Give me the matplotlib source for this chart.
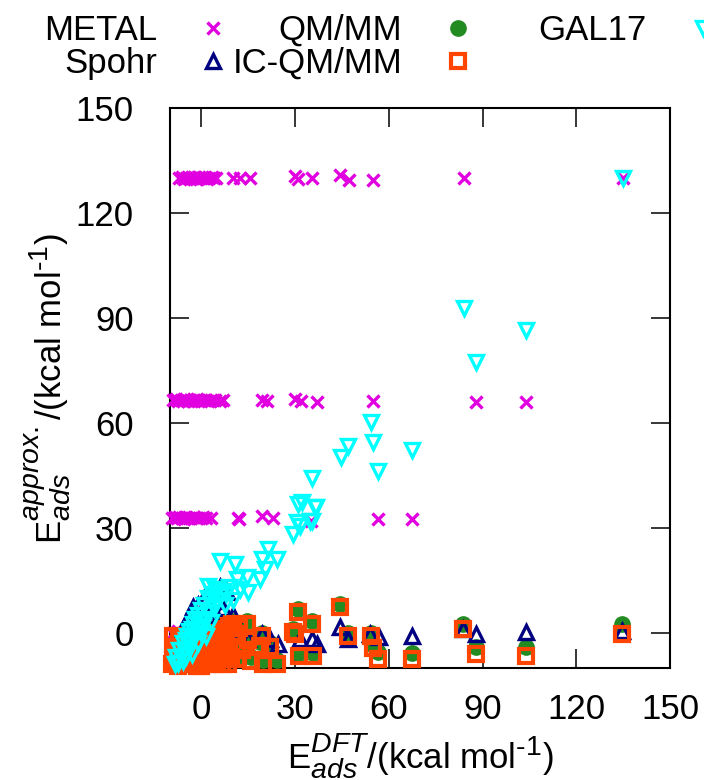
import matplotlib.pyplot as plt
import matplotlib._mathtext as mathtext_internal
from matplotlib.lines import Line2D

plt.rcParams['font.family'] = ['Liberation Sans', 'DejaVu Sans']
plt.rcParams['mathtext.fontset'] = 'custom'
plt.rcParams['mathtext.rm'] = 'Liberation Sans'
plt.rcParams['mathtext.it'] = 'Liberation Sans:italic'
plt.rcParams['font.size'] = 25
# gnuplot enhanced text uses bigger sub/superscripts than mathtext
mathtext_internal.SHRINK_FACTOR = 0.82

# METAL: three quantised levels plus a few near zero
metal_x = [-7, -6.3, -5.6, -5, -4.4, -3.7, -3, -2.4, -1.8, -1.2, -0.6, 0, 0.6, 1.2, 1.9, 2.6, 3.3, 4, 4.6,
           10, 12.5, 15.5, 30, 31, 35.5, 44.5, 47.2, 55, 84, 135,
           -9, -8, -7.3, -6.6, -6, -5.4, -4.8, -4.2, -3.5, -2.8, -2.2, -1.5, -0.8, 0, 0.8, 1.5, 2.3, 3, 4.5,
           6, 7, 19.5, 21, 30, 32, 37, 55, 88, 104,
           -9.5, -8.5, -7.8, -7, -6.2, -5.5, -4.8, -4, -3.2, -2.4, -1.5, -0.6, 0.5, 1.5, 3,
           11.8, 12.2, 19.5, 23, 35, 56.5, 67.3,
           -9, -8.3, -7.5, -6.5]
metal_y = [130, 130.3, 129.8, 130, 130.4, 129.7, 130, 130.2, 129.8, 130, 130.4, 129.9, 130, 130.3, 129.8, 130, 130.2, 129.9, 130,
           130, 130, 130, 130.5, 129.8, 130, 131, 129.5, 129.5, 130, 130,
           66.5, 66.8, 66.3, 66.6, 66.4, 66.8, 66.5, 66.3, 66.7, 66.5, 66.4, 66.8, 66.5, 66.3, 66.6, 66.5, 66.4, 66.7, 66.5,
           66.3, 66.5, 66.5, 66.2, 67, 66.3, 66, 66.2, 66, 66,
           33, 33.2, 32.8, 33.1, 33, 32.7, 33.2, 33, 32.8, 33.1, 33, 32.8, 33.2, 33, 32.9,
           33, 32.6, 33.5, 32.8, 32, 32.5, 32.5,
           0, -1, 0.5, -0.5]

# QM/MM (green circles)
qmmm_x = [-9.5, -9, -8.5, -8, -7, -6, -5, -4, -3, -2, -1, 0, 1, 2, 3, 4, 5, 6, 7, 8, 9, 10,
          9.9, 11.5, 11.5, 11.8, 12, 13, 14.7, 15, 16, 18.8, 19.5, 19.8, 22, 24.3,
          29.4, 30, 31, 31.3, 35.4, 35.8, 44.4, 47, 54.3, 54.9, 56.5, 67.3, 83.6, 87.8, 104, 134.7]
qmmm_y = [-7.5, -4.5, -6.5, -2.5, -4.5, -2.5, -5.5, -0.5, -3, -4.5, -3.5, -5.5, -0.5, -7.5, 0.5, -3.5, 1.5, -1.5, 2.5, -0.5, -2.5, 1.5,
          3.5, 1, -3, -6.5, 2.5, -4, 3.5, -1, -7, -2.5, 0, -7.8, -3, -7.8,
          1.2, 0.7, 6.8, -5.6, 3.5, -5.6, 8.2, 0, 0, -3.3, -5.4, -5.6, 2.6, -4, -4, 2.6]

# GAL17 (cyan down triangles)
gal_x = [-8.5, -8, -7.5, -7, -6.5, -6, -6, -5.5, -5, -5, -4.5, -4, -4, -3.5, -3, -3, -2.5, -2, -2, -1.5,
         -1, -1, -0.5, 0, 0, 0.5, 1, 1, 1.5, 2, 2.2, 2.5, 3, 3, 3.5, 4, 4.5, 5, 5.4, 6, 6, 7, 7.5, 8, 9, 10,
         10.9, 11.5, 12.4, 14.7, 15, 18.8, 19.5, 20.4, 21.4, 24.2, 29.4, 30.6, 31, 31.6, 32.2, 34.8, 35.3,
         35.4, 36.4, 36.7, 44.7, 46.9, 54.3, 54.9, 56.5, 67.3, 84, 88, 104, 135]
gal_y = [-9, -7, -8.5, -5, -7, -3, -8, -5, -2, -6.5, -1, -4, 0.5, -2.5, 1, -6, 2.5, -1, 4, 1,
         5, -3, 3, 6.5, 0, 2, 8, 4, -1, 10, 13.4, 6, 9, 3, 11, 7, 12.5, 9, 12.5, 10.5, 20.5, 12, 8, 11, 13, 9.5,
         19.7, 15.4, 12.5, 16, 11.7, 15.4, 21.1, 18.2, 24, 21.1, 28.2, 31.6, 36.8, 30.5, 37.3, 31.9, 44.2,
         32, 35.9, 35.9, 50.2, 53.3, 60.2, 54.5, 46.2, 52.2, 93, 77.3, 86.5, 130]

# Spohr (navy up triangles)
spohr_x = [-7, -6, -5, -4, -3, -2.5, -2, -1, 0, 0.5, 1.3, 1.9, 2, 3, 3.5, 4, 5, 6, 7, 8.3, 10, 12,
           15, 19.5, 22, 24.6, 31.6, 35.4, 37, 44.4, 47, 54, 57, 67.3, 83.6, 88, 104, 134.7]
spohr_y = [-2, 0, 3, 1, 5, 7.4, 3, 8, 6, 2, 10.5, 10.6, 5, 8, 12, 4, 9, 13, 7, 11.7, 5, -1,
           -1.7, -0.3, -1.7, -3.1, -1.7, -1.7, -3.1, 1.7, -1.7, -0.3, -1.1, -0.9, 1.1, -0.3, 0.3, 0.6]

# IC-QM/MM (orange open squares)
icqm_x = [-9.5, -9, -9, -8.5, -8, -7.5, -7, -7, -6.5, -6, -5.5, -5, -5, -4.5, -4, -4, -3.5, -3, -2.5, -2,
          -2, -1.5, -1, -1, -0.5, 0, 0, 0.5, 1, 1, 1.5, 2, 2.5, 3, 3, 3.5, 4, 4.5, 5, 5, 5.5, 6, 6.5, 7, 7,
          7.5, 8, 8.5, 9, 9, 9.5, 10, 9.9, 11.5, 11.5, 11.8, 12, 14.7, 13, 15, 16, 18.8, 19.5, 19.8, 22,
          24.3, 29.4, 30, 31, 31.3, 35.4, 35.8, 44.4, 47, 54.3, 54.9, 56.5, 67.3, 83.6, 87.8, 104, 134.7]
icqm_y = [-9, -6, -1, -8, -4, -9.5, -6, -2, -8.5, -4, -9, -7, -3, -5.5, -9, -2, -7, -4.5, -8.5, -6,
          -1.5, -9.5, -5, -8, -3, -7, -9.5, -4.5, -8.5, -2, -6, -9, -4, -7, -1, -9, -5, -2.5, -8, 0, -6, -3, -9, -5, 1,
          -7.5, -2, -9, -4, 2, -7, 0, 2.6, -0.3, -4, -7.4, 1.5, 2.6, -5, -2, -8, -3.7, -0.9, -8.8, -4,
          -8.8, 0.3, -0.3, 6, -6.6, 2.6, -6.6, 7.4, -0.9, -0.9, -4.3, -7.4, -7.4, 1.1, -6, -6.6, -0.3]

ticks = [0, 30, 60, 90, 120, 150]

fig = plt.figure(figsize=(7.04, 7.80), dpi=100)
ax = fig.add_axes([0.2415, 0.1436, 0.7102, 0.7179])

ax.plot(metal_x, metal_y, ls='none', marker='x', ms=9, mew=2.4, color='#e000e0', clip_on=False, zorder=3)
ax.plot(qmmm_x, qmmm_y, ls='none', marker='o', ms=11, color='#228b22', mec='#228b22', clip_on=False, zorder=4)
ax.plot(spohr_x, spohr_y, ls='none', marker='^', ms=10, mfc='none', mew=2.4, color='#000080', clip_on=False, zorder=5)
ax.plot(icqm_x, icqm_y, ls='none', marker='s', ms=10, mfc='none', mew=3, color='#ff4500', clip_on=False, zorder=6)
ax.plot(gal_x, gal_y, ls='none', marker='v', ms=10, mfc='none', mew=2.4, color='#00ffff', clip_on=False, zorder=7)

ax.set_xlim(-10, 150)
ax.set_ylim(-10, 150)
ax.set_xticks(ticks)
ax.set_yticks(ticks)
ax.tick_params(direction='in', length=14, width=1.1, top=True, right=True, labelsize=25)
ax.tick_params(axis='y', pad=26)
ax.tick_params(axis='x', pad=18)
for s in ax.spines.values():
    s.set_linewidth(1.5)

ax.set_xlabel(r'$\mathrm{E}_{ads}^{DFT}\text{/(kcal mol}^{\text{-1}}\text{)}$', fontsize=25, labelpad=4)
ax.set_ylabel(r'$\mathrm{E}_{ads}^{approx.}\text{/(kcal mol}^{\text{-1}}\text{)}$', fontsize=25, labelpad=2)

# key above the plot, gnuplot style: text right-aligned, sample after it
labels = ['METAL', 'QM/MM', 'GAL17', 'Spohr', 'IC-QM/MM']
styles = [dict(marker='x', ms=9, mew=2.4, color='#e000e0'),
          dict(marker='o', ms=11, color='#228b22'),
          dict(marker='v', ms=10, mfc='none', mew=2.4, color='#00ffff'),
          dict(marker='^', ms=10, mfc='none', mew=2.4, color='#000080'),
          dict(marker='s', ms=10, mfc='none', mew=3, color='#ff4500')]
W, H = 704, 780
for i, (lab, st) in enumerate(zip(labels, styles)):
    col, row = i % 3, i // 3
    tx = 157 + 245 * col
    base = 40 + 33 * row
    fig.text(tx / W, 1 - base / H, lab, ha='right', va='baseline', fontsize=25)
    fig.add_artist(Line2D([(tx + 56) / W], [1 - (base - 12) / H], ls='none',
                          transform=fig.transFigure, **st))

fig.savefig('out.png', dpi=100)
